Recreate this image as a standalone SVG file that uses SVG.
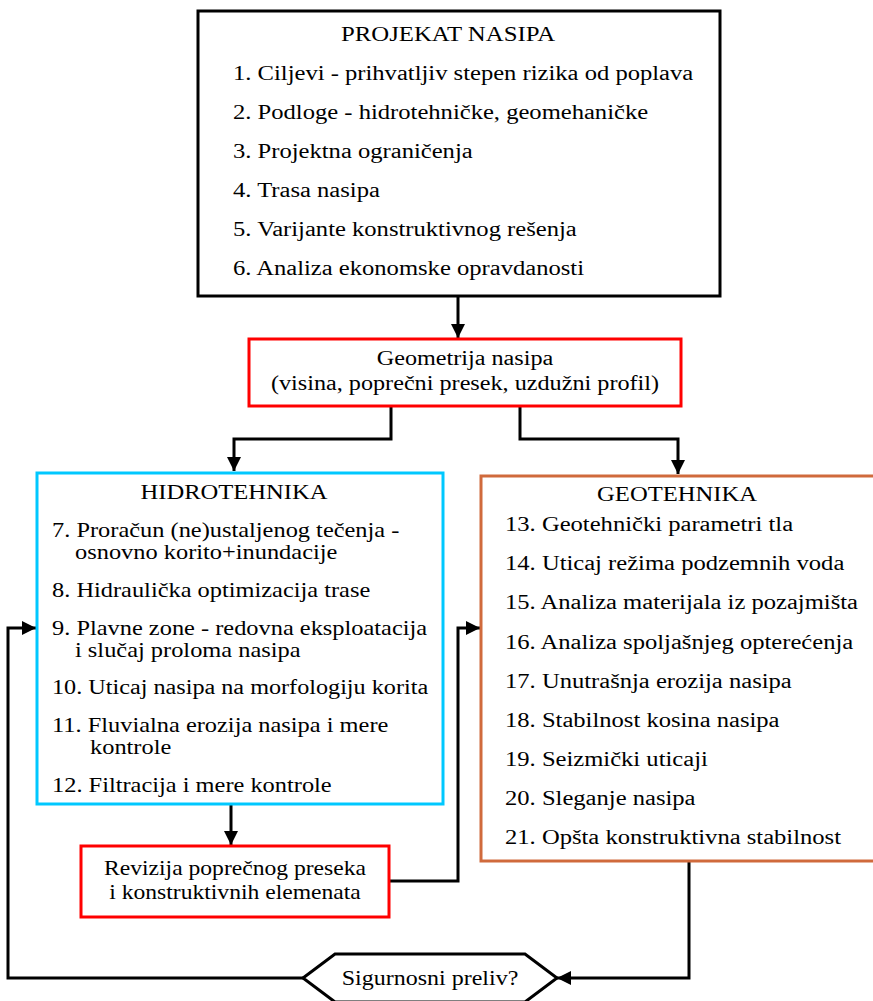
<svg xmlns="http://www.w3.org/2000/svg" width="873" height="1001" viewBox="0 0 873 1001">
<defs>
<style>
text{font-family:"Liberation Serif","Times New Roman",serif;font-size:20px;fill:#000}
.c{text-anchor:middle}
.box{fill:#fff;stroke-width:3}
.ln{fill:none;stroke:#000;stroke-width:3}
</style>
<marker id="ah" markerUnits="userSpaceOnUse" markerWidth="16" markerHeight="16" refX="14" refY="7" orient="auto">
<path d="M0,0 L14,7 L0,14 Z" fill="#000"/>
</marker>
</defs>
<rect width="873" height="1001" fill="#fff"/>
<g id="connectors">
<path class="ln" d="M458,296 V338" marker-end="url(#ah)"/>
<path class="ln" d="M391,406 V439 H234 V471" marker-end="url(#ah)"/>
<path class="ln" d="M520,406 V439 H678 V474" marker-end="url(#ah)"/>
<path class="ln" d="M231,804 V845" marker-end="url(#ah)"/>
<path class="ln" d="M389,881 H458 V628 H480" marker-end="url(#ah)"/>
<path class="ln" d="M689,861 V978 H557" marker-end="url(#ah)"/>
<path class="ln" d="M303,978 H8 V628 H36" marker-end="url(#ah)"/>
</g>
<g id="projekat">
<rect class="box" x="198" y="11" width="522" height="285" stroke="#000"/>
<text class="c" transform="translate(448,41) scale(1.24,1)">PROJEKAT NASIPA</text>
<text transform="translate(233,80) scale(1.23,1)">1. Ciljevi - prihvatljiv stepen rizika od poplava</text>
<text transform="translate(233,119) scale(1.23,1)">2. Podloge - hidrotehničke, geomehaničke</text>
<text transform="translate(233,158) scale(1.23,1)">3. Projektna ograničenja</text>
<text transform="translate(233,197) scale(1.23,1)">4. Trasa nasipa</text>
<text transform="translate(233,236) scale(1.23,1)">5. Varijante konstruktivnog rešenja</text>
<text transform="translate(233,275) scale(1.23,1)">6. Analiza ekonomske opravdanosti</text>
</g>
<g id="geometrija">
<rect class="box" x="249" y="339" width="432" height="67" stroke="#ff0000"/>
<text class="c" transform="translate(465,365) scale(1.21,1)">Geometrija nasipa</text>
<text class="c" transform="translate(465,390) scale(1.21,1)">(visina, poprečni presek, uzdužni profil)</text>
</g>
<g id="hidrotehnika">
<rect class="box" x="37" y="473" width="406" height="331" stroke="#00c8ff"/>
<text class="c" transform="translate(234,499) scale(1.23,1)">HIDROTEHNIKA</text>
<text transform="translate(52,536.5) scale(1.22,1)">7. Proračun (ne)ustaljenog tečenja -</text>
<text transform="translate(75,559) scale(1.22,1)">osnovno korito+inundacije</text>
<text transform="translate(52,597) scale(1.22,1)">8. Hidraulička optimizacija trase</text>
<text transform="translate(52,634.5) scale(1.22,1)">9. Plavne zone - redovna eksploatacija</text>
<text transform="translate(75,657) scale(1.22,1)">i slučaj proloma nasipa</text>
<text transform="translate(52,694) scale(1.21,1)">10. Uticaj nasipa na morfologiju korita</text>
<text transform="translate(52,731.5) scale(1.22,1)">11. Fluvialna erozija nasipa i mere</text>
<text transform="translate(90,754) scale(1.22,1)">kontrole</text>
<text transform="translate(52,791.5) scale(1.22,1)">12. Filtracija i mere kontrole</text>
</g>
<g id="revizija">
<rect class="box" x="81" y="846" width="308" height="71" stroke="#ff0000"/>
<text class="c" transform="translate(235,875) scale(1.18,1)">Revizija poprečnog preseka</text>
<text class="c" transform="translate(235,899) scale(1.18,1)">i konstruktivnih elemenata</text>
</g>
<g id="geotehnika">
<rect class="box" x="481" y="476" width="400" height="385" stroke="#d06a3c"/>
<text class="c" transform="translate(677,500.5) scale(1.23,1)">GEOTEHNIKA</text>
<text transform="translate(505,531) scale(1.23,1)">13. Geotehnički parametri tla</text>
<text transform="translate(505,570) scale(1.23,1)">14. Uticaj režima podzemnih voda</text>
<text transform="translate(505,609) scale(1.23,1)">15. Analiza materijala iz pozajmišta</text>
<text transform="translate(505,648.5) scale(1.23,1)">16. Analiza spoljašnjeg opterećenja</text>
<text transform="translate(505,688) scale(1.23,1)">17. Unutrašnja erozija nasipa</text>
<text transform="translate(505,727) scale(1.23,1)">18. Stabilnost kosina nasipa</text>
<text transform="translate(505,766) scale(1.23,1)">19. Seizmički uticaji</text>
<text transform="translate(505,805) scale(1.23,1)">20. Sleganje nasipa</text>
<text transform="translate(505,844) scale(1.23,1)">21. Opšta konstruktivna stabilnost</text>
</g>
<g id="preliv">
<path class="box" d="M303,978 L335,954 H525 L557,978 L525,1002 H335 Z" stroke="#000"/>
<text class="c" transform="translate(430,985) scale(1.2,1)">Sigurnosni preliv?</text>
</g>
</svg>
